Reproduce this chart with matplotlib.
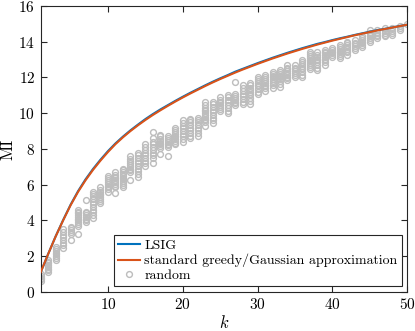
import numpy as np
import matplotlib
matplotlib.use("Agg")
import matplotlib.pyplot as plt

plt.rcParams['font.family'] = ['cmr10', 'DejaVu Serif']
plt.rcParams['mathtext.fontset'] = 'cm'
plt.rcParams['axes.unicode_minus'] = False
plt.rcParams['axes.formatter.use_mathtext'] = True

# datos
k = np.arange(1, 51)

mi_greedy = [1.1, 2.12, 3.1, 4.0, 4.85, 5.6, 6.25, 6.83, 7.35, 7.83,
             8.27, 8.65, 9.0, 9.32, 9.62, 9.9, 10.16, 10.41, 10.65, 10.88,
             11.1, 11.31, 11.52, 11.72, 11.91, 12.09, 12.27, 12.44, 12.6, 12.76,
             12.91, 13.06, 13.2, 13.34, 13.47, 13.6, 13.72, 13.84, 13.95, 14.06,
             14.16, 14.26, 14.36, 14.45, 14.54, 14.63, 14.71, 14.79, 14.87, 14.95]

mi_lsig = [1.1, 2.12, 3.11, 4.02, 4.88, 5.64, 6.3, 6.88, 7.4, 7.88,
           8.31, 8.69, 9.04, 9.36, 9.67, 9.95, 10.21, 10.45, 10.69, 10.92,
           11.14, 11.35, 11.56, 11.76, 11.95, 12.13, 12.32, 12.48, 12.64, 12.8,
           12.95, 13.1, 13.24, 13.38, 13.51, 13.64, 13.76, 13.88, 13.98, 14.09,
           14.19, 14.28, 14.38, 14.47, 14.56, 14.65, 14.72, 14.8, 14.88, 14.95]

mi_random = [
    [0.6, 0.7, 0.8, 0.9, 1.0],
    [1.1, 1.2, 1.3, 1.4, 1.5, 1.6, 1.7, 1.8],
    [1.8, 1.9, 2.0, 2.1, 2.2, 2.3, 2.4, 2.5],
    [2.45, 2.6, 2.75, 2.9, 3.05, 3.2, 3.35, 3.5],
    [2.9, 3.25, 3.35, 3.45, 3.55, 3.65],
    [3.25, 3.7, 3.8, 3.9, 4.0, 4.1, 4.2, 4.3, 4.4, 4.5, 4.6],
    [3.9, 4.0, 4.1, 4.2, 4.3, 4.4, 4.5, 5.15],
    [4.15, 4.3, 4.45, 4.6, 4.75, 4.9, 5.05, 5.2, 5.35, 5.5, 5.6],
    [5.0, 5.1, 5.2, 5.3, 5.4, 5.5, 5.6, 5.7, 5.85],
    [5.6, 5.75, 5.85, 5.95, 6.05, 6.15, 6.25, 6.35, 6.5],
    [5.55, 5.85, 5.95, 6.05, 6.15, 6.25, 6.35, 6.45, 6.55, 6.7],
    [5.85, 6.0, 6.1, 6.2, 6.3, 6.4, 6.5, 6.6, 6.7, 6.8, 6.9],
    [6.25, 6.7, 6.8, 6.9, 7.0, 7.1, 7.2, 7.3, 7.45, 7.6],
    [6.45, 6.6, 6.75, 6.9, 7.05, 7.2, 7.35, 7.5, 7.65, 7.8],
    [7.05, 7.2, 7.35, 7.5, 7.65, 7.8, 7.95, 8.1, 8.25],
    [7.2, 7.5, 7.65, 7.8, 7.95, 8.1, 8.25, 8.4, 8.6, 8.95],
    [7.7, 8.05, 8.15, 8.25, 8.35, 8.45, 8.55, 8.7, 8.8],
    [7.6, 8.1, 8.2, 8.3, 8.4, 8.5, 8.6, 8.7],
    [8.25, 8.35, 8.45, 8.55, 8.65, 8.75, 8.85, 8.95, 9.05, 9.2],
    [8.4, 8.55, 8.7, 8.85, 9.0, 9.15, 9.3, 9.45, 9.6],
    [8.6, 8.75, 8.9, 9.05, 9.2, 9.35, 9.5, 9.6, 9.7],
    [8.75, 8.9, 9.05, 9.2, 9.35, 9.5, 9.6, 9.75],
    [9.3, 9.5, 9.6, 9.7, 9.8, 9.9, 10.0, 10.1, 10.2, 10.3, 10.45, 10.6],
    [9.45, 9.6, 9.75, 9.9, 10.05, 10.2, 10.35, 10.5, 10.6],
    [10.15, 10.25, 10.35, 10.45, 10.55, 10.65, 10.75, 10.9],
    [10.0, 10.15, 10.3, 10.45, 10.6, 10.75, 10.9, 11.0],
    [10.45, 10.55, 10.65, 10.75, 10.85, 10.95, 11.1, 11.75],
    [10.5, 10.65, 10.8, 10.95, 11.1, 11.25, 11.4, 11.6],
    [10.5, 10.7, 10.85, 11.0, 11.1, 11.2, 11.3, 11.4, 11.55, 11.7],
    [11.05, 11.2, 11.35, 11.5, 11.6, 11.7, 11.8, 11.9, 12.05],
    [11.25, 11.4, 11.5, 11.6, 11.7, 11.8, 11.9, 12.0, 12.15],
    [11.4, 11.55, 11.7, 11.8, 11.9, 12.0, 12.1, 12.2, 12.3],
    [11.45, 11.65, 11.8, 11.9, 12.0, 12.1, 12.2, 12.3, 12.4],
    [11.85, 11.95, 12.05, 12.15, 12.25, 12.35, 12.45, 12.55, 12.7],
    [12.05, 12.15, 12.25, 12.35, 12.45, 12.55, 12.7],
    [12.0, 12.15, 12.3, 12.45, 12.55, 12.65, 12.75, 12.85, 13.0],
    [12.5, 12.6, 12.7, 12.8, 12.9, 13.0, 13.1, 13.2, 13.3, 13.45],
    [12.4, 12.55, 12.7, 12.85, 12.95, 13.05, 13.15, 13.25, 13.4],
    [12.7, 12.85, 12.95, 13.05, 13.15, 13.25, 13.35, 13.45, 13.55],
    [13.15, 13.25, 13.35, 13.45, 13.55, 13.65],
    [13.1, 13.2, 13.3, 13.4, 13.5, 13.6, 13.7, 13.8],
    [13.25, 13.4, 13.5, 13.6, 13.7, 13.8, 13.9, 14.0],
    [13.55, 13.65, 13.75, 13.85, 13.95, 14.1],
    [13.7, 13.8, 13.9, 14.0, 14.1, 14.2, 14.3],
    [14.0, 14.1, 14.2, 14.3, 14.4, 14.5, 14.65],
    [14.2, 14.3, 14.4, 14.5, 14.65],
    [14.3, 14.4, 14.5, 14.6, 14.75],
    [14.4, 14.5, 14.6, 14.75],
    [14.65, 14.75, 14.9],
    [15.0],
]

x_ticks = [10, 20, 30, 40, 50]
y_ticks = [0, 2, 4, 6, 8, 10, 12, 14, 16]

azul = (0.0, 0.447, 0.741)
naranja = (0.85, 0.325, 0.098)
gris = (0.74, 0.74, 0.74)
eje = (0.15, 0.15, 0.15)

fig = plt.figure(figsize=(4.15, 3.31), dpi=100)
ax = fig.add_axes([0.098, 0.118, 0.883, 0.864])

# puntos aleatorios
xs = np.concatenate([np.full(len(v), kk) for kk, v in zip(k, mi_random)])
ys = np.concatenate([np.array(v) for v in mi_random])
ax.plot(xs, ys, 'o', linestyle='none', markersize=4.2, markerfacecolor='none',
        markeredgecolor=gris, markeredgewidth=1.0, zorder=1)

l1, = ax.plot(k, mi_lsig, color=azul, linewidth=1.5, zorder=2)
l2, = ax.plot(k, mi_greedy, color=naranja, linewidth=1.5, zorder=3)
l3, = ax.plot([], [], 'o', linestyle='none', markersize=4.2, markerfacecolor='none',
              markeredgecolor=gris, markeredgewidth=1.0)

ax.set_xlim(1, 50)
ax.set_ylim(0, 16)
ax.set_xticks(x_ticks)
ax.set_yticks(y_ticks)
ax.tick_params(direction='in', top=True, right=True, length=4, width=0.8,
               colors=eje, labelsize=11, labelcolor='black', pad=4)
for s in ax.spines.values():
    s.set_color(eje)
    s.set_linewidth(0.8)

ax.set_xlabel('$k$', fontsize=12, labelpad=1)
ax.set_ylabel('MI', fontsize=12)
ax.yaxis.set_label_coords(-0.068, 0.5)

leg = ax.legend([l1, l2, l3],
                ['LSIG', 'standard greedy/Gaussian approximation', 'random'],
                loc='lower right', fontsize=10, handlelength=1.6, handletextpad=0.3,
                borderpad=0.3, labelspacing=0.15, fancybox=False, framealpha=1,
                borderaxespad=0.4)
leg.get_frame().set_edgecolor(eje)
leg.get_frame().set_linewidth(0.8)

fig.savefig('out.png', dpi=100)
